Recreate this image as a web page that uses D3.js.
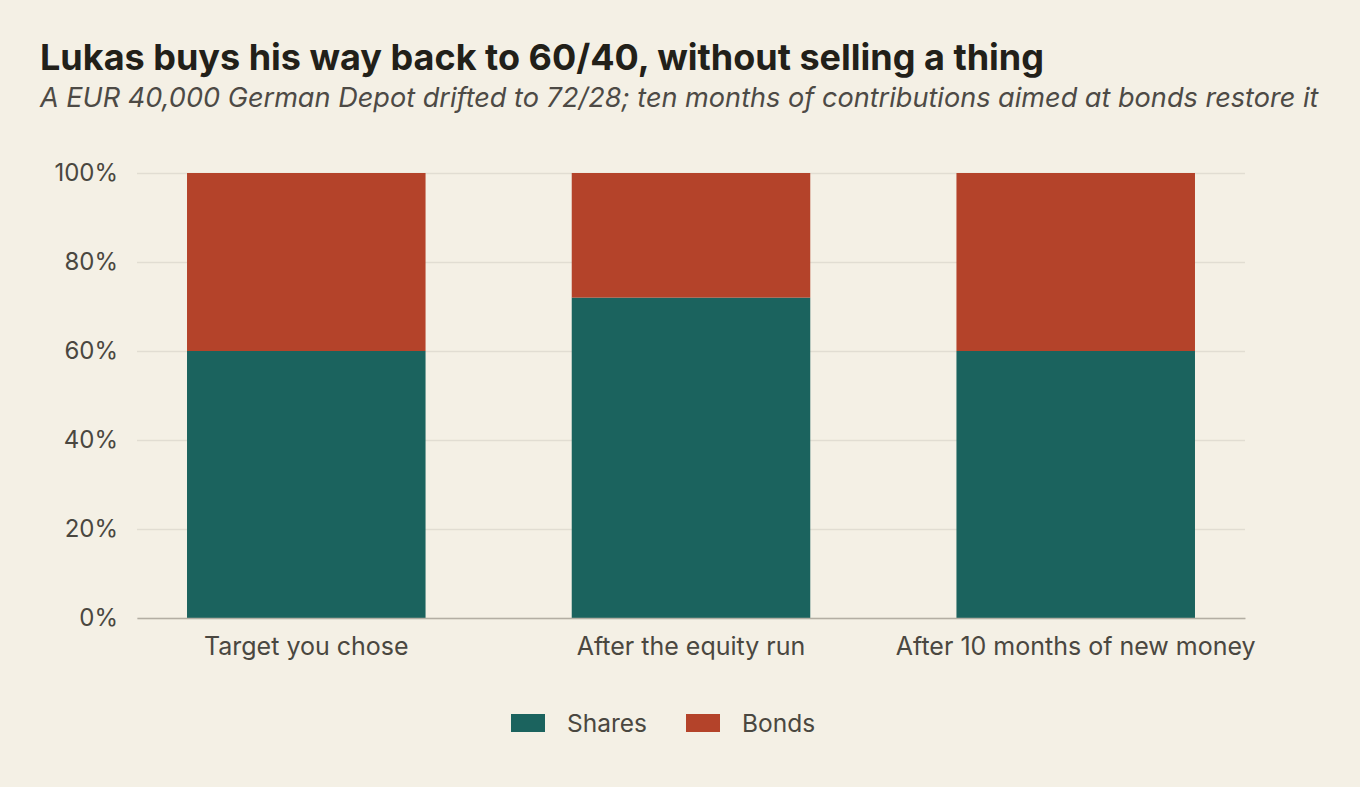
<!DOCTYPE html>
<html>
<head>
<meta charset="utf-8">
<script src="https://cdn.jsdelivr.net/npm/d3@7"></script>
<style>
  body { margin: 0; background: #f4f0e5; }
  svg { display: block; font-family: Inter, "Noto Sans", sans-serif; }
</style>
</head>
<body>
<svg id="chart" width="1360" height="787"></svg>
<script>
var categories = ["Target you chose", "After the equity run", "After 10 months of new money"];
var shares = [60, 72, 60];
var bonds = [40, 28, 40];
var seriesNames = ["Shares", "Bonds"];
var yTicks = [0, 20, 40, 60, 80, 100];

var colors = {Shares: "#1b635e", Bonds: "#b4432a"};

var svg = d3.select("#chart"),
  margin = {top: 173, right: 115, bottom: 169, left: 137},
  width = +svg.attr("width") - margin.left - margin.right,
  height = +svg.attr("height") - margin.top - margin.bottom;

svg.append("rect").attr("width", 1360).attr("height", 787).attr("fill", "#f4f0e5");

svg.append("text")
  .attr("x", 40).attr("y", 70)
  .attr("font-size", 36).attr("font-weight", 700)
  .attr("fill", "#222019")
  .text("Lukas buys his way back to 60/40, without selling a thing");

svg.append("text")
  .attr("x", 40).attr("y", 107)
  .attr("font-size", 27.1).attr("font-style", "italic")
  .attr("fill", "#4d4a45")
  .text("A EUR 40,000 German Depot drifted to 72/28; ten months of contributions aimed at bonds restore it");

var g = svg.append("g").attr("transform", "translate(" + margin.left + "," + margin.top + ")");

var data = categories.map(function(c, i) { return {cat: c, Shares: shares[i], Bonds: bonds[i]}; });

var x = d3.scaleBand()
  .domain(categories)
  .range([0, width])
  .paddingInner(0.38)
  .paddingOuter(0.13);

var y = d3.scaleLinear().domain([0, 100]).range([height, 0]);

// gridlines
g.append("g")
  .call(d3.axisLeft(y).tickValues(yTicks).tickSize(-width).tickFormat(""))
  .call(function(s) {
    s.select(".domain").remove();
    s.selectAll("line").attr("stroke", "#e1ddd2").attr("stroke-width", 1.5);
  });

var stack = d3.stack().keys(seriesNames)(data);

g.selectAll("g.layer")
  .data(stack)
  .enter().append("g")
    .attr("class", "layer")
    .attr("fill", function(d) { return colors[d.key]; })
  .selectAll("rect")
  .data(function(d) { return d; })
  .enter().append("rect")
    .attr("x", function(d) { return x(d.data.cat); })
    .attr("width", x.bandwidth())
    .attr("y", function(d) { return y(d[1]); })
    .attr("height", function(d) { return y(d[0]) - y(d[1]); });

// y axis labels
g.append("g")
  .call(d3.axisLeft(y).tickValues(yTicks).tickSize(0).tickPadding(19).tickFormat(function(d) { return d + "%"; }))
  .call(function(s) {
    s.select(".domain").remove();
    s.selectAll("text").attr("font-size", 24).attr("fill", "#4a4740").attr("font-family", "Inter, sans-serif");
  });

// x axis
g.append("g")
  .attr("transform", "translate(0," + height + ")")
  .call(d3.axisBottom(x).tickSize(0).tickPadding(19))
  .call(function(s) {
    s.select(".domain").attr("stroke", "#b3aea3").attr("stroke-width", 1.5);
    s.selectAll("text").attr("font-size", 25).attr("fill", "#4a4740").attr("font-family", "Inter, sans-serif");
  });

// legend
var legendX = [511, 686];
var legend = svg.append("g");
seriesNames.forEach(function(name, i) {
  legend.append("rect")
    .attr("x", legendX[i]).attr("y", 714)
    .attr("width", 34).attr("height", 18)
    .attr("fill", colors[name]);
  legend.append("text")
    .attr("x", legendX[i] + 56).attr("y", 723)
    .attr("dy", "0.35em")
    .attr("font-size", 24.5).attr("fill", "#4a4740")
    .text(name);
});
</script>
</body>
</html>
